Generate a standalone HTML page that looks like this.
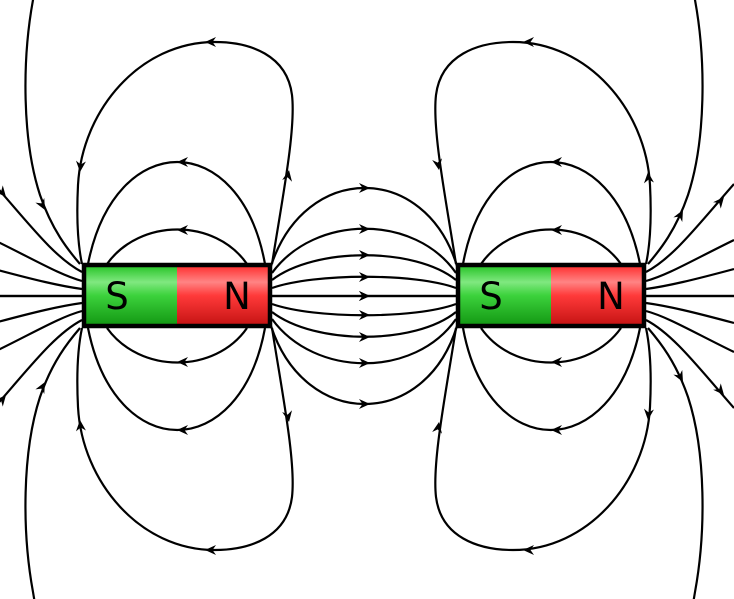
<!DOCTYPE html>
<html><head><meta charset="utf-8"><style>
html,body{margin:0;padding:0;background:#fff;}
svg{display:block;}
text{font-family:"DejaVu Sans","Liberation Sans",sans-serif;}
</style></head><body>
<svg width="734" height="599" viewBox="0 0 734 599" xmlns="http://www.w3.org/2000/svg">
<defs>
<linearGradient id="gG" x1="0" y1="0" x2="0" y2="1">
<stop offset="0" stop-color="#22c222"/><stop offset="0.28" stop-color="#80e880"/><stop offset="0.5" stop-color="#3cd23c"/><stop offset="1" stop-color="#129612"/>
</linearGradient>
<linearGradient id="gR" x1="0" y1="0" x2="0" y2="1">
<stop offset="0" stop-color="#ff2a2a"/><stop offset="0.28" stop-color="#ff8484"/><stop offset="0.5" stop-color="#ff3a3a"/><stop offset="1" stop-color="#c41212"/>
</linearGradient>
<path id="ar" d="M0,0 L-11,-5 L-7.5,0 L-11,5 Z" fill="#000"/>
<g id="half">
 <g fill="none" stroke="#000" stroke-width="2.2">
  <path id="q" d="M247,264 C215,218 140,218 107,264 M265,264 C240,128 115,128 88,264 M272,264 C282,200 296,130 292,95 C287,55 250,42 215,42 C140,42 82,110 78,185 C76,225 79,250 82,264 M35,-12 L33,0 C22,60 22,140 40,195 C52,230 68,250 80,264 M-6,184 C30,225 55,258 82,272 M-6,240 C35,260 60,275 82,281 M-6,269 C35,280 60,286 82,289 M-6,296 L82,296"/>
  <use href="#q" transform="matrix(-1,0,0,1,728,0)"/>
  <path d="M271,266 C305,162 425,162 457,266 M272,273 C315,214 415,214 456,273 M272,280 C315,247 415,247 456,280 M272,288 C315,273 415,273 456,288 M272,296 L456,296"/>
 </g>
 <use href="#ar" transform="translate(177,230) rotate(180)"/>
 <use href="#ar" transform="translate(177,162) rotate(180)"/>
 <use href="#ar" transform="translate(289,170) rotate(-80)"/>
 <use href="#ar" transform="translate(205,42) rotate(180)"/>
 <use href="#ar" transform="translate(80,172) rotate(95)"/>
 <use href="#ar" transform="translate(45,210) rotate(62)"/>
 <use href="#ar" transform="translate(6,197) rotate(50)"/>
 <use href="#ar" transform="translate(551,230) rotate(180)"/>
 <use href="#ar" transform="translate(551,162) rotate(180)"/>
 <use href="#ar" transform="translate(439,170) rotate(80)"/>
 <use href="#ar" transform="translate(523,42) rotate(180)"/>
 <use href="#ar" transform="translate(648,172) rotate(-95)"/>
 <use href="#ar" transform="translate(683,210) rotate(-62)"/>
 <use href="#ar" transform="translate(724,197) rotate(-50)"/>
 <use href="#ar" transform="translate(370,188)"/>
 <use href="#ar" transform="translate(370,229)"/>
 <use href="#ar" transform="translate(370,255)"/>
 <use href="#ar" transform="translate(370,277)"/>
 <use href="#ar" transform="translate(370,296)"/>
</g>
</defs>
<use href="#half"/>
<use href="#half" transform="matrix(1,0,0,-1,0,592)"/>
<g>
 <rect x="84" y="265" width="93" height="61" fill="url(#gG)"/>
 <rect x="177" y="265" width="93" height="61" fill="url(#gR)"/>
 <rect x="84" y="265" width="186" height="61" fill="none" stroke="#000" stroke-width="4.5"/>
 <text x="117" y="309" font-size="37" text-anchor="middle" fill="#000">S</text>
 <text x="237" y="309" font-size="37" text-anchor="middle" fill="#000">N</text>
</g>
<g>
 <rect x="458" y="265" width="93" height="61" fill="url(#gG)"/>
 <rect x="551" y="265" width="93" height="61" fill="url(#gR)"/>
 <rect x="458" y="265" width="186" height="61" fill="none" stroke="#000" stroke-width="4.5"/>
 <text x="491" y="309" font-size="37" text-anchor="middle" fill="#000">S</text>
 <text x="611" y="309" font-size="37" text-anchor="middle" fill="#000">N</text>
</g>
</svg>
</body></html>
